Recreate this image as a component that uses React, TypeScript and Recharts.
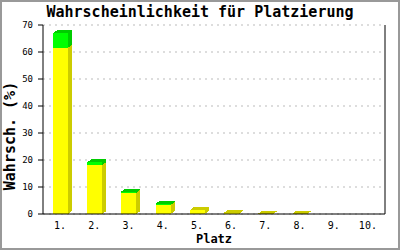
import { Bar, BarChart, CartesianGrid, XAxis, YAxis } from 'recharts'

const places = ['1.', '2.', '3.', '4.', '5.', '6.', '7.', '8.', '9.', '10.']
// yellow part and the green cap on top of it, in percent
const baseShare = [61.6, 18.1, 7.9, 3.3, 1.4, 0.5, 0.15, 0.15, 0, 0]
const capShare = [5.3, 1.0, 0.4, 0.5, 0, 0, 0, 0, 0, 0]
const yTicks = [0, 10, 20, 30, 40, 50, 60, 70]

const data = places.map((place, i) => ({ place, base: baseShare[i], cap: capShare[i] }))

const MONO = '"DejaVu Sans Mono", monospace'
const DX = 4
const DY = 3

function Block(props: any) {
  const { x, y, width, height, front, side, lid } = props
  if (!height || height <= 0.05) return null
  const r = x + width
  const b = y + height
  return (
    <g shapeRendering="crispEdges">
      <rect x={x} y={y} width={width} height={height} fill={front} />
      <polygon points={`${r},${y} ${r + DX},${y - DY} ${r + DX},${b - DY} ${r},${b}`} fill={side} />
      <polygon points={`${x},${y} ${x + DX},${y - DY} ${r + DX},${y - DY} ${r},${y}`} fill={lid} />
    </g>
  )
}

function PlatzLabel(props: any) {
  const { viewBox } = props
  return (
    <text x={viewBox.x + viewBox.width / 2} y={viewBox.y + 29} textAnchor="middle"
      style={{ fontFamily: MONO, fontWeight: 700, fontSize: 12, fill: '#000' }}>
      Platz
    </text>
  )
}

function ShareLabel() {
  return (
    <text x={8} y={134} textAnchor="middle" dominantBaseline="central" transform="rotate(-90 8 134)"
      style={{ fontFamily: MONO, fontWeight: 700, fontSize: 15, fill: '#000' }}>
      Wahrsch. (%)
    </text>
  )
}

export default function App() {
  return (
    <div style={{ position: 'absolute', left: 0, top: 0, width: 400, height: 250, boxSizing: 'border-box', border: '2px solid #999', background: '#fff' }}>
      <div style={{ position: 'absolute', left: 0, top: 3, width: 396, textAlign: 'center', fontFamily: MONO, fontWeight: 700, fontSize: 15, lineHeight: '15px' }}>
        Wahrscheinlichkeit für Platzierung
      </div>
      <BarChart width={396} height={246} data={data} margin={{ top: 23, right: 12, left: 0, bottom: 0 }} barSize={15}>
        <CartesianGrid vertical={false} stroke="#bbb" strokeDasharray="2 4" />
        <XAxis dataKey="place" height={34} axisLine={{ stroke: '#000' }} tickLine={false} tickSize={0} tickMargin={8}
          tick={{ fontFamily: MONO, fontSize: 10, fill: '#000' }} interval={0} label={<PlatzLabel />} />
        <YAxis domain={[0, 70]} ticks={yTicks} width={41} axisLine={{ stroke: '#000' }} tickLine={{ stroke: '#000' }}
          tickSize={5} tickMargin={5} tick={{ fontFamily: MONO, fontSize: 9, fill: '#000' }} label={<ShareLabel />} />
        <YAxis yAxisId="edge" orientation="right" domain={[0, 70]} width={1} axisLine={{ stroke: '#000' }} tick={false} tickLine={false} />
        <Bar dataKey="base" stackId="p" isAnimationActive={false}
          shape={(p: any) => <Block {...p} front="#ffff00" side="#cccc00" lid="#cccc00" />} />
        <Bar dataKey="cap" stackId="p" isAnimationActive={false}
          shape={(p: any) => <Block {...p} front="#00ff00" side="#00cc00" lid="#00cc00" />} />
      </BarChart>
    </div>
  )
}
